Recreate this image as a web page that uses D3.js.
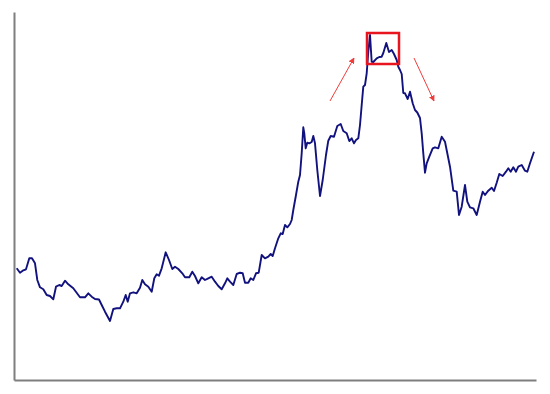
<!DOCTYPE html>
<html>
<head>
<meta charset="utf-8">
<script src="https://cdn.jsdelivr.net/npm/d3@7"></script>
<style>
  html, body { margin: 0; padding: 0; background: #fff; }
  svg { display: block; }
</style>
</head>
<body>
<svg id="chart" width="550" height="394"></svg>
<script>
// Time positions (periods) of the series
const periods = [0.7,4,6.7,10,13.3,16,19,21.3,24,27.3,
30.7,34,37.3,40,43.3,45.7,49,52.3,57.3,64,
69,72.3,75.7,79,83,85.7,89,94,97.3,100.7,
104,107.3,109.7,111.7,114,117.3,120.7,124,126.3,129,
132.3,135.7,138.3,140.7,143,145.7,149.7,153,156.3,159,
162.3,166.3,169,173.3,176.3,179,182.3,185.7,189,192.3,
195.7,199,202.3,205.7,209,211.3,214,217.3,220.7,224,
226.7,229,232.3,234.7,237.3,240,242.7,245.7,249,252.3,
254.7,256.7,259,262.3,264.7,266.7,269,271.3,274,275.7,
277.3,280,282.3,284,285.7,287.3,288.3,289.7,291.3,293.3,
295.7,297.3,299,301.3,304,306.7,310,312.3,314.7,318,
321.3,324.7,327.3,330.7,333.3,335.7,338,340,342.3,344,
345.7,347.3,349,350.7,352.3,354,355.7,357.3,360.7,363.3,
365.7,367.3,370.3,373,375.7,378,380.7,382.3,384,385.7,
387.3,389,391.7,394,396.7,399,401.3,404,405.7,407.3,
409,410.7,413.3,416.7,419,422.3,425.7,429,431.3,434,
437.3,440.7,443,445.7,449,451.3,454,457.3,460.7,464,
466.7,469,472.3,475.7,478,480.7,483.3,486.7,490,492.3,
494.7,497.3,500,502.3,505.7,509,511.3,514,518];

// Series values
const prices = [111.7,107.3,109.3,110.7,121.7,121.7,116.7,100,92.7,90.7,
85,84,80.7,93.3,95,94,99.3,95.7,91.7,82.7,
82.7,86.7,83.3,81,80.5,75,68.3,59,71,71.7,
71.7,78.3,85,78.3,86.7,87.7,86.7,92.3,100,95.7,
93.3,88.3,101.7,105.7,104.3,111.7,127.7,120,111,113.3,
111,106.7,102.7,102.7,108.3,104,96.7,102.7,100,101.7,
103.3,98.3,94,90.7,96.7,101.7,98.3,95,106,107.3,
106.7,97.3,97.3,101.7,100,106.7,107.3,125,121.7,123.3,
126,124,131.7,141.7,146.7,146,155,152.7,156,160,
170,185,198.3,205,226.7,252.7,246.7,231.7,237.3,236.7,
238,244,236.7,210,184,200,225,239.3,244,243.3,
254,256,249,246.7,239,241.7,236.7,240,241.7,255,
275,293.3,295,306.7,328.3,345,318.3,318,321.7,323,
323.3,327,337,328,330,326,320,313.3,310,306,
287,286.7,281,288.3,276.7,270,267.5,262,246.7,226.7,
207.3,216.7,223.3,231.7,232.7,231.7,243.3,238.3,226.7,213.3,
189.3,188.3,165,173.3,195,178.3,172.7,171.7,165,178.3,
188.3,185,189.3,192.3,189,197.3,206,204,208.3,211.7,
208.3,212.7,208.3,213.3,215,209.3,208.3,216.7,228.3];

// Annotation: highlighted peak box [t0, t1, vLow, vHigh]
const peakBox = [351, 383, 316, 347];
// Annotation arrows [tFrom, vFrom, tTo, vTo]
const arrowUp = [314, 279, 338, 322];
const arrowDown = [398, 322, 418, 279];

const svg = d3.select("#chart");
const x = d3.scaleLinear().domain([-2, 520]).range([14, 536]);
const y = d3.scaleLinear().domain([0, 368]).range([380, 12]);

// Axes (no ticks)
svg.append("g").attr("transform", `translate(0,${y(0)})`)
  .call(d3.axisBottom(x).tickValues([]).tickSizeOuter(0));
svg.append("g").attr("transform", `translate(${x(-2)},0)`)
  .call(d3.axisLeft(y).tickValues([]).tickSizeOuter(0));
svg.selectAll(".domain").attr("stroke", "#7f7f7f").attr("stroke-width", 2);

const data = periods.map((t, i) => ({ t, v: prices[i] }));
const line = d3.line().x(d => x(d.t)).y(d => y(d.v));

svg.append("path")
  .datum(data)
  .attr("fill", "none")
  .attr("stroke", "#12127f")
  .attr("stroke-width", 1.9)
  .attr("stroke-linejoin", "round")
  .attr("d", line);

// arrow marker
const defs = svg.append("defs");
defs.append("marker")
  .attr("id", "ah")
  .attr("viewBox", "0 0 10 10")
  .attr("refX", 9).attr("refY", 5)
  .attr("markerWidth", 6).attr("markerHeight", 6)
  .attr("markerUnits", "userSpaceOnUse")
  .attr("orient", "auto")
  .append("path").attr("d", "M0,0 L10,5 L0,10 z").attr("fill", "#f03c3c");

[arrowUp, arrowDown].forEach(a => {
  svg.append("line")
    .attr("x1", x(a[0])).attr("y1", y(a[1]))
    .attr("x2", x(a[2])).attr("y2", y(a[3]))
    .attr("stroke", "#f03c3c").attr("stroke-width", 1)
    .attr("marker-end", "url(#ah)");
});

svg.append("rect")
  .attr("x", x(peakBox[0])).attr("y", y(peakBox[3]))
  .attr("width", x(peakBox[1]) - x(peakBox[0]))
  .attr("height", y(peakBox[2]) - y(peakBox[3]))
  .attr("fill", "none")
  .attr("stroke", "#e8141e")
  .attr("stroke-width", 2.5);
</script>
</body>
</html>
